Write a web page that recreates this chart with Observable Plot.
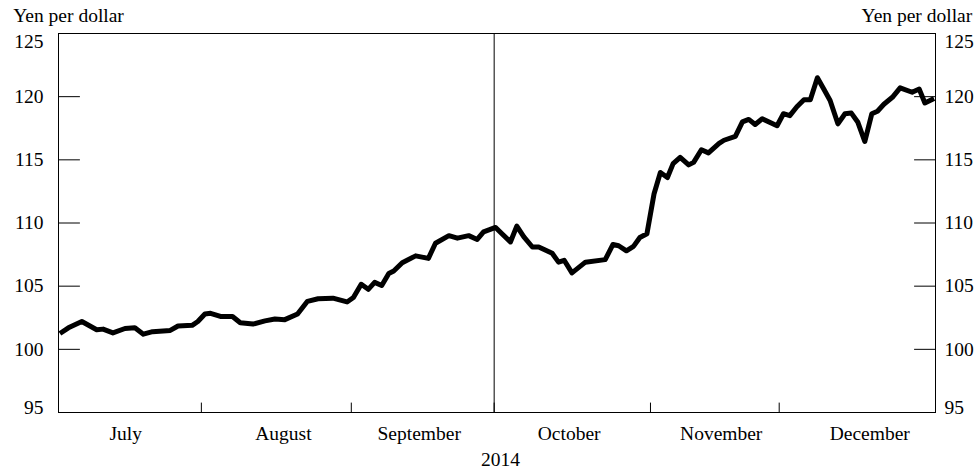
<!DOCTYPE html>
<html><head><meta charset="utf-8">
<script src="https://cdn.jsdelivr.net/npm/d3@7"></script>
<script src="https://cdn.jsdelivr.net/npm/@observablehq/plot@0.6"></script>
<style>body{margin:0;background:#fff} svg{display:block}</style>
</head><body><div id="chart"></div>
<script>
// x = trading-day position (July 1 = 0), y = yen per dollar
const days = [0.2,1.4,3.3,5.4,6.3,7.7,9.4,10.8,12.0,13.3,15.8,16.9,18.9,19.7,20.7,21.5,22.9,24.6,25.7,27.5,29.2,30.6,32.0,
  33.8,35.2,36.7,38.8,40.8,41.7,42.8,43.8,44.7,45.7,46.7,47.4,48.6,50.5,52.3,53.3,55.2,56.4,58.0,59.2,60.1,
  61.8,62.7,63.9,64.8,65.8,67.0,67.9,69.8,70.7,71.5,72.6,74.5,77.3,78.4,79.2,80.3,81.3,82.2,83.2,
  84.2,85.1,86.1,86.9,87.9,89.1,89.8,90.9,91.9,93.4,94.1,95.7,96.7,97.6,98.5,99.5,
  101.6,102.5,103.4,104.4,105.4,106.3,107.3,108.2,109.1,110.2,111.2,112.1,113.0,114.0,115.0,115.8,116.7,117.9,119.0,120.7,121.7,122.5,123.8];
const yen = [101.25,101.7,102.2,101.55,101.6,101.3,101.65,101.7,101.2,101.4,101.5,101.85,101.9,102.2,102.8,102.85,102.6,102.6,102.1,102.0,102.25,102.4,102.35,
  102.8,103.8,104.0,104.05,103.75,104.1,105.15,104.75,105.3,105.05,106.0,106.2,106.85,107.4,107.2,108.4,109.0,108.8,109.0,108.7,109.3,
  109.65,109.15,108.5,109.75,108.9,108.1,108.1,107.6,106.9,107.05,106.05,106.9,107.1,108.3,108.2,107.8,108.15,108.85,109.15,
  112.3,114.0,113.6,114.7,115.2,114.6,114.8,115.8,115.55,116.3,116.55,116.85,118.0,118.2,117.8,118.25,
  117.7,118.65,118.5,119.2,119.75,119.75,121.5,120.6,119.7,117.85,118.65,118.7,118.0,116.45,118.65,118.85,119.4,119.95,120.7,120.35,120.6,119.5,119.85];
const yTicks = [95, 100, 105, 110, 115, 120, 125];
const monthNames = ["July", "August", "September", "October", "November", "December"];
const monthLabelAt = [9.5, 31.8, 51.0, 72.2, 93.7, 114.7];
const monthStarts = [20.2, 41.4, 61.6, 83.7, 101.9];
const dividerAt = 61.6;
const yearLabel = "2014";
const unitLabel = "Yen per dollar";

const data = days.map((d, i) => ({day: d, yen: yen[i]}));
const tickLine = {draw(ctx, l) { ctx.moveTo(0, 0); ctx.lineTo(0, -l); }};
const fs = 19.5;
const midTicks = yTicks.slice(1, -1);

const plot = Plot.plot({
  width: 979, height: 468,
  marginLeft: 58, marginRight: 44, marginTop: 33, marginBottom: 56,
  style: {fontFamily: "'Liberation Serif', serif", fontSize: fs + "px", color: "#000", background: "#fff", overflow: "visible"},
  x: {domain: [0, 124]},
  y: {domain: [95, 125]},
  marks: [
    Plot.frame({stroke: "#000", strokeWidth: 1}),
    Plot.ruleX([dividerAt], {stroke: "#000", strokeWidth: 1}),
    Plot.vector(monthStarts, {x: d => d, y: 95, length: 9.5, anchor: "start", shape: tickLine, stroke: "#000", strokeWidth: 1}),
    Plot.vector(yTicks, {x: 0, y: d => d, rotate: 90, length: 21, anchor: "start", shape: tickLine, stroke: "#000", strokeWidth: 1}),
    Plot.vector(yTicks, {x: 124, y: d => d, rotate: -90, length: 21, anchor: "start", shape: tickLine, stroke: "#000", strokeWidth: 1}),
    Plot.axisY(midTicks, {anchor: "left", tickSize: 0, tickPadding: 15, label: null}),
    Plot.axisY([125], {anchor: "left", tickSize: 0, tickPadding: 15, label: null, dy: 8}),
    Plot.axisY([95], {anchor: "left", tickSize: 0, tickPadding: 15, label: null, dy: -5}),
    Plot.axisY(midTicks, {anchor: "right", tickSize: 0, tickPadding: 9, label: null}),
    Plot.axisY([125], {anchor: "right", tickSize: 0, tickPadding: 9, label: null, dy: 8}),
    Plot.axisY([95], {anchor: "right", tickSize: 0, tickPadding: 9, label: null, dy: -5}),
    Plot.axisX(monthLabelAt, {anchor: "bottom", tickSize: 0, tickPadding: 14, label: null,
      tickFormat: d => monthNames[monthLabelAt.indexOf(d)]}),
    Plot.line(data, {x: "day", y: "yen", stroke: "#000", strokeWidth: 5, strokeLinejoin: "round", strokeLinecap: "butt"}),
    Plot.text([yearLabel], {frameAnchor: "bottom", dx: 3.5, dy: 53, lineAnchor: "bottom", text: d => d}),
    Plot.text([unitLabel], {frameAnchor: "top-left", textAnchor: "start", dx: -45.3, dy: -11.3, lineAnchor: "bottom", text: d => d}),
    Plot.text([unitLabel], {frameAnchor: "top-right", textAnchor: "end", dx: 36.7, dy: -11.3, lineAnchor: "bottom", text: d => d})
  ]
});
document.getElementById("chart").appendChild(plot);
</script>
</body></html>
